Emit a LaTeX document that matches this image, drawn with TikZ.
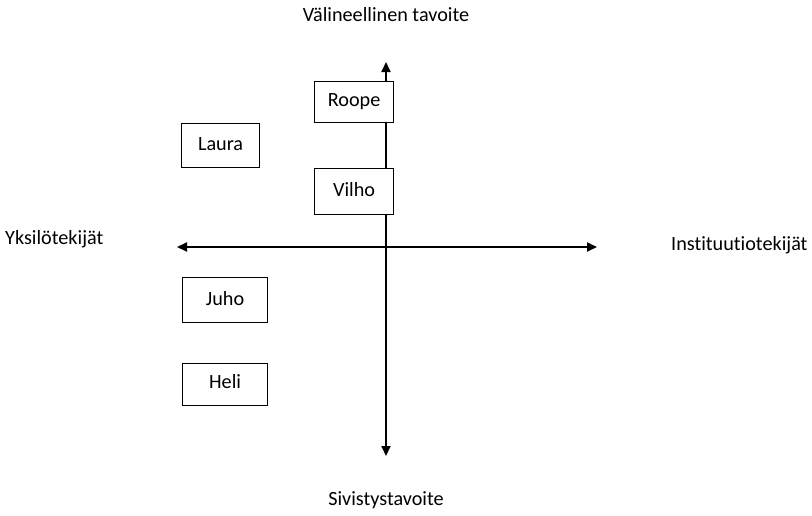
\documentclass[tikz,border=0pt]{standalone}
\usepackage{fontspec}
\setmainfont{Carlito}[Ligatures=NoCommon]
\usetikzlibrary{arrows.meta}
\begin{document}
\begin{tikzpicture}[x=1pt,y=-1pt,
  every node/.style={font=\fontsize{20.2}{22}\selectfont, inner sep=0pt},
  axis/.style={line width=1.9pt, {Triangle[length=10pt,width=9pt]}-{Triangle[length=10pt,width=9pt]}},
  namebox/.style={draw, line width=1.2pt, fill=white, anchor=north west}]
\useasboundingbox (0,0) rectangle (812,515);
% axis end points
\coordinate (top) at (386,62);
\coordinate (bottom) at (386,456);
\coordinate (left) at (177,247);
\coordinate (right) at (597,247);
\draw[axis] (left) -- (right);
\draw[axis] (bottom) -- (top);
% boxes
\node[namebox, minimum width=79pt, minimum height=41pt] (roope) at (314,81) {};
\node at (roope.center) {Roope};
\node[namebox, minimum width=79pt, minimum height=46pt] (vilho) at (314,168) {};
\node at ([yshift=2pt]vilho.center) {Vilho};
\node[namebox, minimum width=78pt, minimum height=44pt] (laura) at (181,123) {};
\node at ([yshift=2pt]laura.center) {Laura};
\node[namebox, minimum width=85pt, minimum height=45pt] (juho) at (182,277) {};
\node at ([yshift=2pt]juho.center) {Juho};
\node[namebox, minimum width=85pt, minimum height=42pt] (heli) at (182,363) {};
\node at ([yshift=3pt]heli.center) {Heli};
% axis labels
\node (ylab) at (386,15) {Välineellinen tavoite};
\node (alab) at (386,500) {Sivistystavoite};
\node[anchor=west] (vlab) at (5,239) {Yksilötekijät};
\node[anchor=west] (olab) at (671,245) {Instituutiotekijät};
\end{tikzpicture}
\end{document}
